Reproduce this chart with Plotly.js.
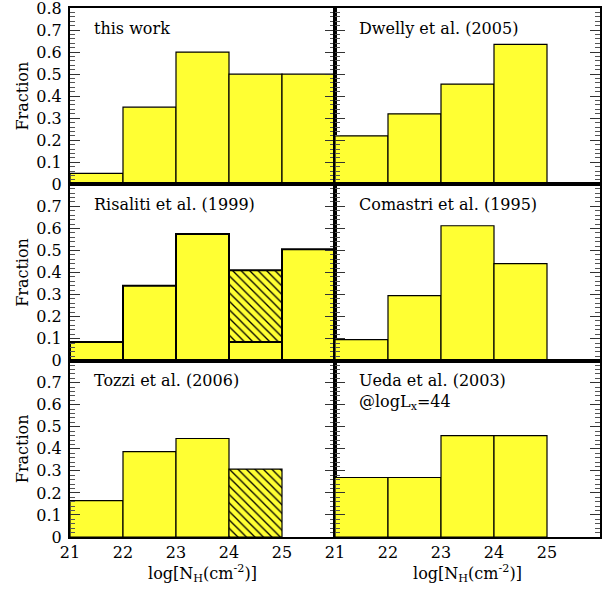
<!DOCTYPE html>
<html>
<head>
<meta charset="utf-8">
<script src="https://cdn.plot.ly/plotly-3.0.1.min.js"></script>
<style>
  html, body { margin: 0; padding: 0; background: #fff; }
  #chart { width: 616px; height: 589px; }
</style>
</head>
<body>
<div id="chart"></div>
<script>
// log N_H bins (cm^-2): centres of unit-width bins from 21 to 26
const nhBinCentres = [21.5, 22.5, 23.5, 24.5, 25.5];
const binWidth = 1;

// Fraction of sources per N_H bin for each sample
const thisWork      = [0.05, 0.35, 0.60, 0.50, 0.50];
const dwelly2005    = [0.22, 0.32, 0.455, 0.635, null];
const risaliti1999  = [0.085, 0.34, 0.575, 0.085, 0.505];
const risalitiUpper = [null, null, null, 0.41, null];   // upper limit of hatched part
const comastri1995  = [0.095, 0.295, 0.612, 0.44, null];
const tozzi2006     = [0.165, 0.387, 0.447, null, null];
const tozziHatched  = [null, null, null, 0.308, null];
const ueda2003      = [0.27, 0.27, 0.46, 0.46, null];

// Panel captions
const panelLabels = [
  'this work',
  'Dwelly et al. (2005)',
  'Risaliti et al. (1999)',
  'Comastri et al. (1995)',
  'Tozzi et al. (2006)',
  'Ueda et al. (2003)<br>@logL<sub>x</sub>=44'
];

const xTickVals = [21, 22, 23, 24, 25];
const xTickText = ['21', '22', '23', '24', '25'];
const yTickValsTop = [0, 0.1, 0.2, 0.3, 0.4, 0.5, 0.6, 0.7, 0.8];
const yTickValsLower = [0, 0.1, 0.2, 0.3, 0.4, 0.5, 0.6, 0.7];

const FONT = 'DejaVu Serif, Liberation Serif, serif';
const YELLOW = '#ffff33';

function bars(y, axisIdx, opts = {}) {
  const s = axisIdx === 1 ? '' : String(axisIdx);
  return {
    type: 'bar',
    x: nhBinCentres,
    y: y,
    width: binWidth,
    base: opts.base,
    xaxis: 'x' + s,
    yaxis: 'y' + s,
    marker: {
      color: YELLOW,
      line: { color: '#000', width: opts.lw || 1.2 },
      pattern: opts.hatch ? { shape: '\\', fgcolor: '#000', bgcolor: YELLOW, size: 6, solidity: 0.22 } : undefined
    },
    showlegend: false,
    hoverinfo: 'skip'
  };
}

// hatched Risaliti bin spans from the solid part up to its upper limit
const risalitiHatchBase = risalitiUpper.map((u, i) => (u === null ? null : risaliti1999[i]));
const risalitiHatchHeight = risalitiUpper.map((u, i) => (u === null ? null : u - risaliti1999[i]));

const data = [
  bars(thisWork, 1),
  bars(dwelly2005, 2),
  bars(risaliti1999, 3, { lw: 2 }),
  bars(risalitiHatchHeight, 3, { lw: 2, hatch: true, base: risalitiHatchBase }),
  bars(comastri1995, 4),
  bars(tozzi2006, 5),
  bars(tozziHatched, 5, { hatch: true }),
  bars(ueda2003, 6)
];

const yDomains = [[2 / 3, 1], [1 / 3, 2 / 3], [0, 1 / 3]];

const layout = {
  width: 616,
  height: 589,
  margin: { l: 70, r: 16, t: 8, b: 52 },
  paper_bgcolor: '#fff',
  plot_bgcolor: '#fff',
  font: { family: FONT, color: '#000', size: 16 },
  barmode: 'overlay',
  bargap: 0,
  annotations: [],
  showlegend: false
};

for (let i = 1; i <= 6; i++) {
  const s = i === 1 ? '' : String(i);
  const left = i % 2 === 1;
  const row = Math.floor((i - 1) / 2);
  const bottom = row === 2;
  const yVals = row === 0 ? yTickValsTop : yTickValsLower;
  layout['xaxis' + s] = {
    domain: left ? [0, 0.5] : [0.5, 1],
    anchor: 'y' + s,
    range: [21, 26],
    showline: true, mirror: true, linecolor: '#000', linewidth: 2,
    showgrid: false, zeroline: false,
    ticks: '',
    tickmode: 'array', tickvals: xTickVals, ticktext: xTickText,
    showticklabels: bottom,
    ticklabeloverflow: 'allow',
    tickfont: { size: 16 },
    title: bottom ? { text: 'log[N<sub>H</sub>(cm<sup>-2</sup>)]', font: { size: 16 }, standoff: 6 } : { text: '' }
  };
  layout['yaxis' + s] = {
    domain: yDomains[row],
    anchor: 'x' + s,
    range: [0, 0.8],
    showline: true, mirror: 'ticks', linecolor: '#000', linewidth: 2,
    showgrid: false, zeroline: false,
    ticks: 'inside', ticklen: 10, tickwidth: 1, tickcolor: '#333',
    tickmode: 'array', tickvals: yVals,
    ticktext: yVals.map(v => (v === 0 ? '0' : v.toFixed(1))),
    minor: { ticks: 'inside', ticklen: 5, tickwidth: 1, tickcolor: '#555', tickmode: 'linear', tick0: 0, dtick: 0.02 },
    showticklabels: left,
    ticklabeloverflow: 'allow',
    ticklabelstandoff: 3,
    tickfont: { size: 16 },
    title: left ? { text: 'Fraction', font: { size: 16 }, standoff: 4 } : { text: '' }
  };
  layout.annotations.push({
    xref: 'x' + s + ' domain', yref: 'y' + s + ' domain',
    x: 0.082, y: 0.95, xanchor: 'left', yanchor: 'top',
    text: panelLabels[i - 1], showarrow: false, align: 'left',
    font: { size: 16, family: FONT }
  });
}

Plotly.newPlot('chart', data, layout, { staticPlot: true, displayModeBar: false });
</script>
</body>
</html>
